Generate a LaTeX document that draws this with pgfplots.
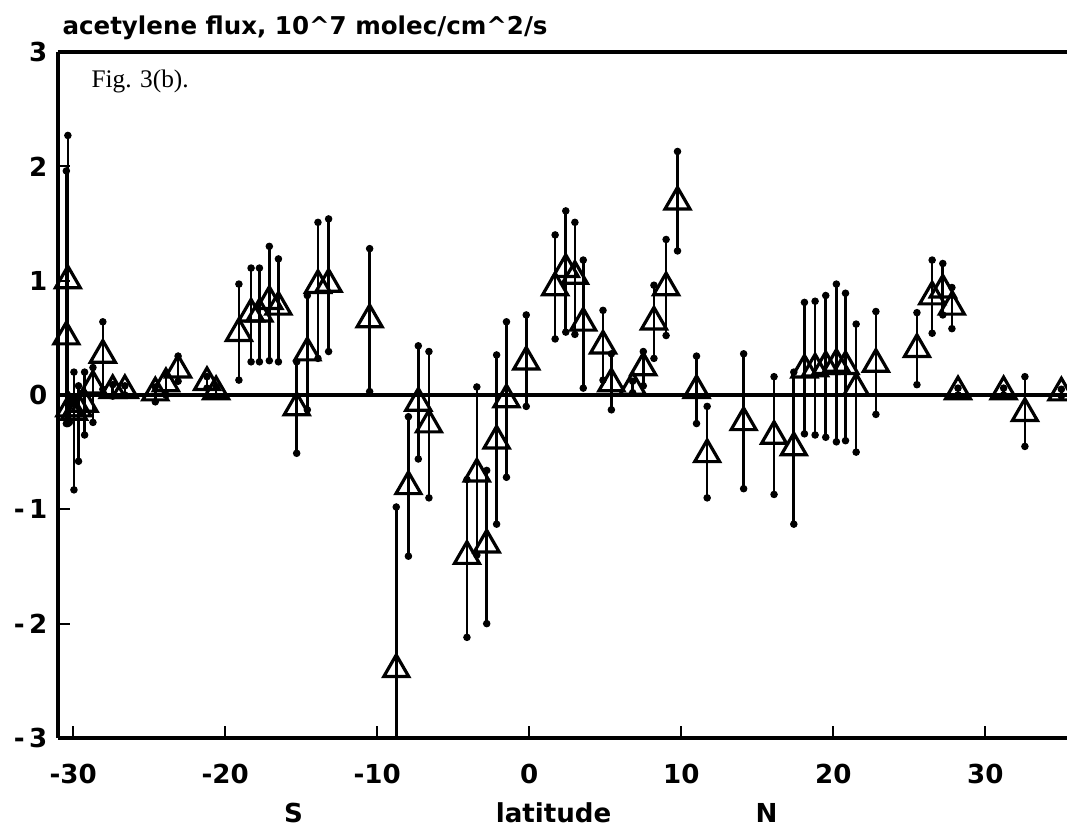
\documentclass[border=0pt]{standalone}
\usepackage{fontspec}
\setmainfont{Liberation Serif}
\newfontfamily\dejab{DejaVu Sans}
\usepackage{pgfplots}
\usepackage{pgfplotstable}
\pgfplotsset{compat=1.18}

\pgfplotstableread{
x y ep em
-30.45 0.51 1.45 0.76
-30.35 1.00 1.27 1.25
-30.25 -0.12 0.10 0.12
-29.95 -0.15 0.35 0.68
-29.65 -0.12 0.20 0.46
-29.25 -0.08 0.28 0.27
-28.70 0.08 0.16 0.32
-28.05 0.35 0.29 0.30
-27.40 0.04 0.05 0.05
-26.60 0.04 0.04 0.04
-24.60 0.02 0.05 0.08
-23.90 0.10 0.08 0.10
-23.10 0.22 0.12 0.10
-21.20 0.11 0.05 0.05
-20.60 0.03 0.04 0.04
-19.10 0.54 0.43 0.41
-18.30 0.71 0.40 0.42
-17.75 0.71 0.40 0.42
-17.10 0.82 0.48 0.52
-16.50 0.77 0.42 0.48
-15.30 -0.11 0.40 0.40
-14.60 0.37 0.50 0.50
-13.90 0.96 0.55 0.64
-13.20 0.97 0.57 0.59
-10.50 0.66 0.62 0.63
-8.75 -2.40 1.42 0.90
-7.95 -0.80 0.61 0.61
-7.30 -0.07 0.50 0.49
-6.60 -0.26 0.64 0.64
-4.10 -1.41 0.67 0.71
-3.45 -0.69 0.76 0.71
-2.80 -1.31 0.65 0.69
-2.15 -0.40 0.75 0.73
-1.50 -0.04 0.68 0.68
-0.20 0.29 0.41 0.39
1.70 0.94 0.46 0.45
2.40 1.10 0.51 0.55
3.00 1.04 0.47 0.51
3.55 0.63 0.55 0.57
4.85 0.43 0.31 0.30
5.40 0.10 0.26 0.23
6.80 0.07 0.05 0.05
7.50 0.24 0.14 0.16
8.20 0.64 0.32 0.32
9.00 0.94 0.42 0.42
9.75 1.69 0.44 0.43
11.00 0.04 0.30 0.29
11.70 -0.52 0.42 0.38
14.10 -0.24 0.60 0.58
16.10 -0.36 0.52 0.51
17.40 -0.46 0.66 0.67
18.10 0.22 0.59 0.56
18.80 0.23 0.59 0.58
19.50 0.25 0.62 0.62
20.20 0.27 0.70 0.68
20.80 0.25 0.64 0.65
21.50 0.06 0.56 0.56
22.80 0.27 0.46 0.44
25.50 0.40 0.32 0.31
26.50 0.86 0.32 0.32
27.20 0.92 0.23 0.22
27.80 0.77 0.17 0.19
28.20 0.03 0.03 0.03
31.20 0.03 0.03 0.03
32.60 -0.16 0.32 0.29
35.00 0.02 0.03 0.03
}\data

\begin{document}
\begin{tikzpicture}
\begin{axis}[
  scale only axis,
  width=378.4pt, height=257.25pt,
  xmin=-31.0, xmax=35.37, ymin=-3, ymax=3,
  axis x line*=box, axis y line*=left,
  axis line style={line width=1.2pt, black},
  xtick={-30,-20,-10,0,10,20,30},
  xticklabels={-30,-20,-10,0,10,20,30},
  ytick={-3,-2,-1,0,1,2,3},
  yticklabels={-\,3,-\,2,-\,1,0,1,2,3},
  xtick pos=bottom, ytick pos=left,
  tick align=inside, major tick length=4.5pt,
  tick style={line width=0.8pt, black},
  ticklabel style={font=\dejab\bfseries\fontsize{9.8}{11}\selectfont},
  xticklabel style={yshift=-6.3pt},
  yticklabel style={xshift=-0.5pt},
  clip mode=individual,
]
\draw[line width=1.4pt] (axis cs:-31.0,0) -- (axis cs:35.37,0);
\addplot[only marks, black, mark=triangle, mark size=5.4pt,
  mark options={line width=1.2pt, fill=none},
  error bars/.cd, y dir=both, y explicit,
  error bar style={line width=1pt, black},
  error mark=*, error mark options={mark size=1.2pt, fill=black, line width=0.4pt}]
  table[x=x, y=y, y error plus=ep, y error minus=em]{\data};
\coordinate (sw) at (rel axis cs:0,0);
\coordinate (nw) at (rel axis cs:0,1);
\coordinate (ne) at (rel axis cs:1,1);
\coordinate (S) at (axis cs:-15.5,-3);
\coordinate (L) at (axis cs:1.6,-3);
\coordinate (N) at (axis cs:15.6,-3);
\end{axis}
\node[anchor=base west, inner sep=0, font=\dejab\bfseries\fontsize{9.2}{11}\selectfont] at ([shift={(1.5pt,6.4pt)}]nw) {acetylene flux, 10\textasciicircum 7 molec/cm\textasciicircum 2/s};
\node[anchor=north west, inner sep=0, font=\fontsize{9.5}{11}\selectfont] at ([shift={(12.4pt,-6.6pt)}]nw) {Fig. 3(b).};
\foreach \c/\t in {S/S, L/latitude, N/N}{
  \node[anchor=base, inner sep=0, font=\dejab\bfseries\fontsize{9.8}{11}\selectfont] at ([yshift=-31.8pt]\c) {\t};
}
\pgfresetboundingbox
\path[use as bounding box] ([shift={(-21.75pt,-33.4pt)}]sw) rectangle ([shift={(0pt,19.5pt)}]ne);
\end{tikzpicture}
\end{document}
